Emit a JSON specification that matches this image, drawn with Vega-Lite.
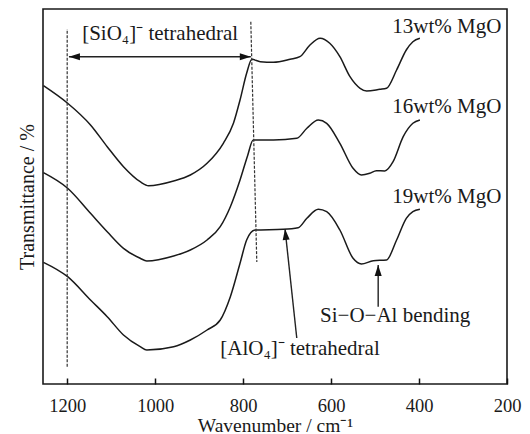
{
  "$schema": "https://vega.github.io/schema/vega-lite/v6.json",
  "autosize": "none",
  "padding": {"left": 43, "top": 9, "right": 23, "bottom": 50},
  "width": 464,
  "height": 375,
  "config": {
    "view": {"stroke": "#1a1a1a", "strokeWidth": 1.6},
    "font": "Liberation Serif",
    "axis": {"grid": false, "domain": false, "labelFont": "Liberation Serif", "titleFont": "Liberation Serif", "titleFontWeight": "normal", "labelColor": "#1a1a1a", "titleColor": "#1a1a1a"}
  },
  "datasets": {
    "spectra": [
      {"s": "13", "wn": 1254, "t": 298.3}, {"s": "13", "wn": 1199, "t": 280.7}, {"s": "13", "wn": 1147, "t": 259},
      {"s": "13", "wn": 1109, "t": 237.3}, {"s": "13", "wn": 1072, "t": 217.3}, {"s": "13", "wn": 1034, "t": 202.3},
      {"s": "13", "wn": 1015, "t": 198.3}, {"s": "13", "wn": 958, "t": 203}, {"s": "13", "wn": 920, "t": 209},
      {"s": "13", "wn": 882, "t": 220.7}, {"s": "13", "wn": 845, "t": 240.7}, {"s": "13", "wn": 822, "t": 260.7},
      {"s": "13", "wn": 807, "t": 284}, {"s": "13", "wn": 792, "t": 310.7}, {"s": "13", "wn": 780, "t": 324.7},
      {"s": "13", "wn": 761, "t": 322.3}, {"s": "13", "wn": 731, "t": 321.7}, {"s": "13", "wn": 693, "t": 324.7},
      {"s": "13", "wn": 671, "t": 327.3}, {"s": "13", "wn": 648, "t": 339}, {"s": "13", "wn": 625, "t": 345.7},
      {"s": "13", "wn": 603, "t": 340.7}, {"s": "13", "wn": 580, "t": 327.3}, {"s": "13", "wn": 557, "t": 307.3},
      {"s": "13", "wn": 534, "t": 295.7}, {"s": "13", "wn": 519, "t": 293}, {"s": "13", "wn": 489, "t": 294.7},
      {"s": "13", "wn": 474, "t": 295.7}, {"s": "13", "wn": 451, "t": 314}, {"s": "13", "wn": 429, "t": 334},
      {"s": "13", "wn": 414, "t": 342.3}, {"s": "13", "wn": 398, "t": 345.7},

      {"s": "16", "wn": 1254, "t": 211.3}, {"s": "16", "wn": 1199, "t": 195.7}, {"s": "16", "wn": 1147, "t": 170.7},
      {"s": "16", "wn": 1109, "t": 152.3}, {"s": "16", "wn": 1072, "t": 135.7}, {"s": "16", "wn": 1034, "t": 125.7},
      {"s": "16", "wn": 1019, "t": 123}, {"s": "16", "wn": 958, "t": 128}, {"s": "16", "wn": 920, "t": 134},
      {"s": "16", "wn": 882, "t": 144}, {"s": "16", "wn": 852, "t": 157.3}, {"s": "16", "wn": 829, "t": 177.3},
      {"s": "16", "wn": 807, "t": 204}, {"s": "16", "wn": 790, "t": 228}, {"s": "16", "wn": 777, "t": 244},
      {"s": "16", "wn": 731, "t": 244}, {"s": "16", "wn": 678, "t": 245.7}, {"s": "16", "wn": 655, "t": 255.7},
      {"s": "16", "wn": 629, "t": 264}, {"s": "16", "wn": 610, "t": 260.7}, {"s": "16", "wn": 580, "t": 240.7},
      {"s": "16", "wn": 550, "t": 215.7}, {"s": "16", "wn": 531, "t": 209}, {"s": "16", "wn": 512, "t": 210.7},
      {"s": "16", "wn": 497, "t": 213.3}, {"s": "16", "wn": 478, "t": 213}, {"s": "16", "wn": 459, "t": 222.3},
      {"s": "16", "wn": 436, "t": 247.3}, {"s": "16", "wn": 414, "t": 260.7}, {"s": "16", "wn": 398, "t": 264},

      {"s": "19", "wn": 1254, "t": 121.7}, {"s": "19", "wn": 1199, "t": 107.3}, {"s": "19", "wn": 1147, "t": 84},
      {"s": "19", "wn": 1109, "t": 67.3}, {"s": "19", "wn": 1072, "t": 49}, {"s": "19", "wn": 1034, "t": 37.3},
      {"s": "19", "wn": 1019, "t": 34}, {"s": "19", "wn": 958, "t": 37.3}, {"s": "19", "wn": 920, "t": 44},
      {"s": "19", "wn": 882, "t": 54}, {"s": "19", "wn": 852, "t": 64}, {"s": "19", "wn": 829, "t": 87.3},
      {"s": "19", "wn": 807, "t": 120.7}, {"s": "19", "wn": 792, "t": 144}, {"s": "19", "wn": 773, "t": 154},
      {"s": "19", "wn": 709, "t": 154.7}, {"s": "19", "wn": 675, "t": 156.3}, {"s": "19", "wn": 655, "t": 165.7},
      {"s": "19", "wn": 629, "t": 174.7}, {"s": "19", "wn": 610, "t": 172.3}, {"s": "19", "wn": 580, "t": 154},
      {"s": "19", "wn": 550, "t": 125.7}, {"s": "19", "wn": 531, "t": 120}, {"s": "19", "wn": 504, "t": 123.3},
      {"s": "19", "wn": 474, "t": 124}, {"s": "19", "wn": 451, "t": 144}, {"s": "19", "wn": 429, "t": 165.7},
      {"s": "19", "wn": 414, "t": 172.3}, {"s": "19", "wn": 398, "t": 174.7}
    ],
    "guides": [
      {"x": 1200, "y": 17.3, "x2": 1200, "y2": 355},
      {"x": 782.5, "y": 362.3, "x2": 768.9, "y2": 122}
    ],
    "arrows": [
      {"x": 1196, "y": 327.3, "x2": 782.5, "y2": 327.3},
      {"x": 678, "y": 46, "x2": 704.7, "y2": 155},
      {"x": 492.9, "y": 77.3, "x2": 492.9, "y2": 119}
    ],
    "heads": [
      {"x": 1196, "y": 327.3, "angle": 180},
      {"x": 782.5, "y": 327.3, "angle": 0},
      {"x": 704.7, "y": 155, "angle": 264},
      {"x": 492.9, "y": 119, "angle": 270}
    ],
    "labels": [
      {"x": 1166, "y": 344, "text": "[SiO₄]⁻ tetrahedral"},
      {"x": 461, "y": 350.7, "text": "13wt% MgO"},
      {"x": 461, "y": 270.7, "text": "16wt% MgO"},
      {"x": 461, "y": 180.7, "text": "19wt% MgO"},
      {"x": 625, "y": 62.3, "text": "Si−O−Al bending"},
      {"x": 852, "y": 29, "text": "[AlO₄]⁻ tetrahedral"}
    ]
  },
  "layer": [
    {
      "data": {"name": "spectra"},
      "mark": {"type": "line", "interpolate": "monotone", "stroke": "#1a1a1a", "strokeWidth": 1.5},
      "encoding": {
        "x": {
          "field": "wn", "type": "quantitative",
          "scale": {"domain": [200, 1255], "reverse": true, "nice": false, "zero": false},
          "axis": {
            "title": "Wavenumber / cm⁻¹", "values": [1200, 1000, 800, 600, 400, 200], "format": "d",
            "offset": -6, "tickSize": 6, "tickColor": "#111", "tickWidth": 1.5, "labelPadding": 12, "labelFlush": false,
            "labelFontSize": 18.5, "titleFontSize": 19.5, "titleY": 53, "titleBaseline": "alphabetic"
          }
        },
        "y": {
          "field": "t", "type": "quantitative",
          "scale": {"domain": [0, 375], "nice": false, "zero": false},
          "axis": {
            "title": "Transmittance / %", "labels": false, "ticks": false,
            "titleFontSize": 20, "titleX": -10, "titleBaseline": "alphabetic"
          }
        },
        "detail": {"field": "s"}
      }
    },
    {
      "data": {"name": "guides"},
      "mark": {"type": "rule", "stroke": "#333", "strokeWidth": 1.2, "strokeDash": [3, 1.5]},
      "encoding": {
        "x": {"field": "x", "type": "quantitative"},
        "y": {"field": "y", "type": "quantitative"},
        "x2": {"field": "x2"},
        "y2": {"field": "y2"}
      }
    },
    {
      "data": {"name": "arrows"},
      "mark": {"type": "rule", "stroke": "#222", "strokeWidth": 1.4},
      "encoding": {
        "x": {"field": "x", "type": "quantitative"},
        "y": {"field": "y", "type": "quantitative"},
        "x2": {"field": "x2"},
        "y2": {"field": "y2"}
      }
    },
    {
      "data": {"name": "heads"},
      "mark": {"type": "point", "shape": "M0,0 L-2,-0.64 L-2,0.64 Z", "filled": true, "fill": "#111", "stroke": null, "size": 121, "opacity": 1},
      "encoding": {
        "x": {"field": "x", "type": "quantitative"},
        "y": {"field": "y", "type": "quantitative"},
        "angle": {"field": "angle", "type": "quantitative", "scale": null}
      }
    },
    {
      "data": {"name": "labels"},
      "mark": {"type": "text", "align": "left", "baseline": "alphabetic", "font": "Liberation Serif", "fontSize": 21, "fill": "#1a1a1a"},
      "encoding": {
        "x": {"field": "x", "type": "quantitative"},
        "y": {"field": "y", "type": "quantitative"},
        "text": {"field": "text"}
      }
    }
  ]
}
